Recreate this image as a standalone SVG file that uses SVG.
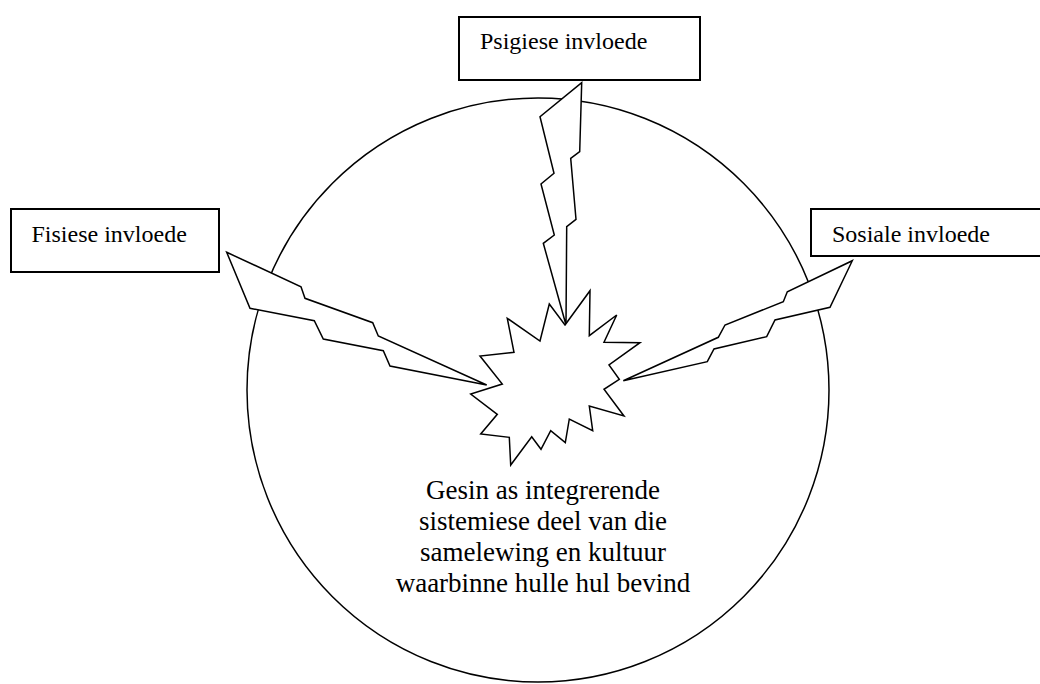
<svg xmlns="http://www.w3.org/2000/svg" width="1040" height="684" viewBox="0 0 1040 684">
<style>
.box{fill:#fff;stroke:#000;stroke-width:2}
.shape{fill:#fff;stroke:#000;stroke-width:1.5;stroke-linejoin:miter}
.lbl{font-family:"Liberation Serif","Times New Roman",serif;font-size:24px;fill:#000}
.main{font-family:"Liberation Serif","Times New Roman",serif;font-size:27px;fill:#000;text-anchor:middle}
</style>
<rect width="1040" height="684" fill="#fff"/>
<g id="gesin">
<ellipse class="shape" cx="538" cy="390" rx="291" ry="292"/>
</g>
<g id="connectors">
<polygon class="shape" points="581.7,82.7 579.7,151.7 570.7,158.3 576,219.3 566.7,226.7 566,325 543.3,243.3 554.3,235 541,184 554,173.3 540,116.7"/>
<polygon class="shape" points="226.7,252.3 301,286.7 305,298.3 372.7,322.7 378.3,336 486.7,385 390,366 383.3,350.7 323.3,339 314.3,320.7 250,308.3"/>
<polygon class="shape" points="623.3,380.7 718.3,337.3 725,325 783.3,301.7 787.3,291.7 852.3,260.7 830,307.3 775,320 766.7,336.7 714,349 707.3,361.7"/>
</g>
<g id="gesin-kern">
<polygon class="shape" points="565,325 590,290.7 589.3,335.7 616.7,315 604,342.3 640,342.7 609,365 619.3,379.3 604,389.3 624,416 589.3,406 592.7,430.7 569.3,419 565.3,442.7 550.7,430.7 541,449.3 531.7,436.7 510.7,465 509.3,437.3 480.7,434 497.3,414.3 470.7,394 502.3,384 480,356 514,352.3 507.3,318.3 540,341 549.3,304"/>
<text class="main" x="543" y="499">Gesin as integrerende</text>
<text class="main" x="543" y="530">sistemiese deel van die</text>
<text class="main" x="543" y="561">samelewing en kultuur</text>
<text class="main" x="543" y="592">waarbinne hulle hul bevind</text>
</g>
<g id="psigiese">
<rect class="box" x="459" y="17" width="241" height="63"/>
<text class="lbl" x="480" y="49">Psigiese invloede</text>
</g>
<g id="fisiese">
<rect class="box" x="11" y="209" width="208" height="63"/>
<text class="lbl" x="31.5" y="241.5">Fisiese invloede</text>
</g>
<g id="sosiale">
<rect class="box" x="811" y="209" width="240" height="47"/>
<text class="lbl" x="832" y="241.5">Sosiale invloede</text>
</g>
</svg>
